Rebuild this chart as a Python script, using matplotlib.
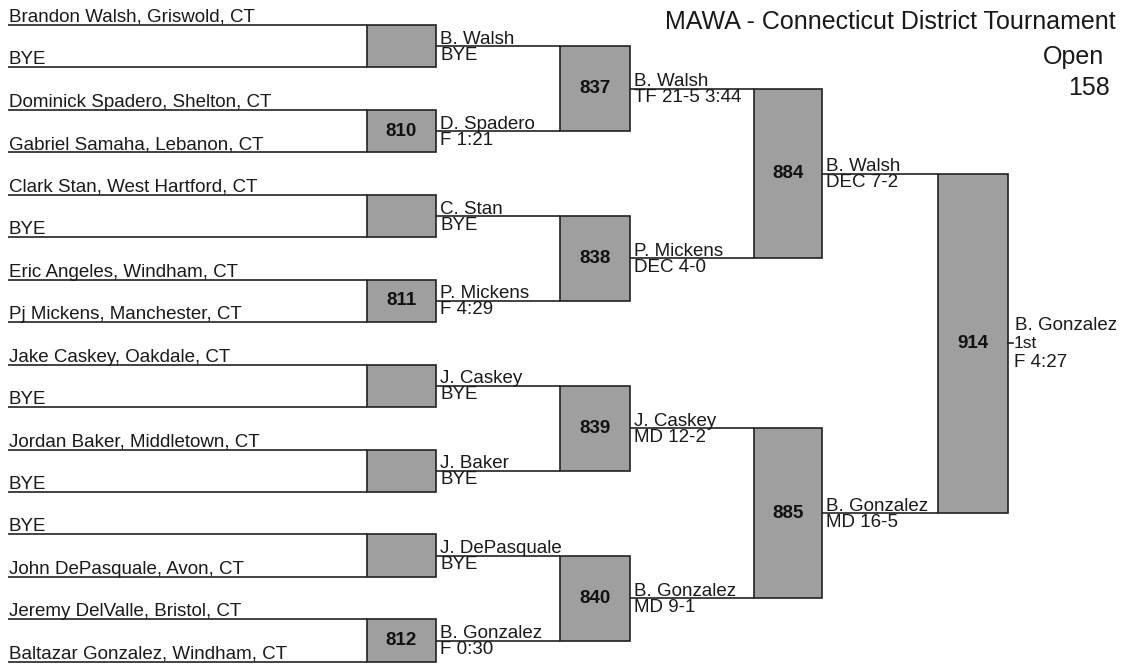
import matplotlib.pyplot as plt
from matplotlib.patches import Rectangle

plt.rcParams["font.family"] = ["Liberation Sans", "DejaVu Sans"]

TITLE = "MAWA - Connecticut District Tournament"
SUBTITLE_1 = "Open"
SUBTITLE_2 = "158"

ENTRANTS = [
    "Brandon Walsh, Griswold, CT",
    "BYE",
    "Dominick Spadero, Shelton, CT",
    "Gabriel Samaha, Lebanon, CT",
    "Clark Stan, West Hartford, CT",
    "BYE",
    "Eric Angeles, Windham, CT",
    "Pj Mickens, Manchester, CT",
    "Jake Caskey, Oakdale, CT",
    "BYE",
    "Jordan Baker, Middletown, CT",
    "BYE",
    "BYE",
    "John DePasquale, Avon, CT",
    "Jeremy DelValle, Bristol, CT",
    "Baltazar Gonzalez, Windham, CT",
]

# bout numbers per round ("" = bye, no bout)
BOUTS_R1 = ["", "810", "", "811", "", "", "", "812"]
BOUTS_R2 = ["837", "838", "839", "840"]
BOUTS_R3 = ["884", "885"]
BOUTS_R4 = ["914"]

WINNERS_R1 = ["B. Walsh", "D. Spadero", "C. Stan", "P. Mickens",
              "J. Caskey", "J. Baker", "J. DePasquale", "B. Gonzalez"]
RESULTS_R1 = ["BYE", "F 1:21", "BYE", "F 4:29", "BYE", "BYE", "BYE", "F 0:30"]
WINNERS_R2 = ["B. Walsh", "P. Mickens", "J. Caskey", "B. Gonzalez"]
RESULTS_R2 = ["TF 21-5 3:44", "DEC 4-0", "MD 12-2", "MD 9-1"]
WINNERS_R3 = ["B. Walsh", "B. Gonzalez"]
RESULTS_R3 = ["DEC 7-2", "MD 16-5"]
CHAMPION = "B. Gonzalez"
PLACE = "1st"
FINAL_RESULT = "F 4:27"

# layout (pixels)
W, H = 1125, 671
ROW0, ROW_STEP = 25.0, 42.45
LINE_X0 = 8
COLS = [(367, 436), (560, 630), (754, 822), (938, 1008)]
BOX_COLOR = "#9f9f9f"
LINE_COLOR = "#222222"
TEXT_COLOR = "#1a1a1a"
LW = 1.2
FS = 13.5

fig = plt.figure(figsize=(W / 100, H / 100), dpi=100)
ax = fig.add_axes([0, 0, 1, 1])
ax.set_xlim(0, W)
ax.set_ylim(H, 0)
ax.axis("off")

# first round lines with entrant names
rows = [ROW0 + ROW_STEP * i for i in range(len(ENTRANTS))]
for y, name in zip(rows, ENTRANTS):
    ax.plot([LINE_X0, COLS[0][0]], [y, y], color=LINE_COLOR, lw=LW,
            solid_capstyle="butt")
    ax.text(9, y - 3, name, fontsize=FS, ha="left", va="baseline",
            color=TEXT_COLOR)


def draw_round(col, edges, bouts, winners, results, next_x):
    x0, x1 = col
    mids = []
    for k, bout in enumerate(bouts):
        top, bottom = edges[2 * k], edges[2 * k + 1]
        ax.add_patch(Rectangle((x0, top), x1 - x0, bottom - top,
                               facecolor=BOX_COLOR, edgecolor=LINE_COLOR,
                               lw=LW, zorder=2))
        mid = (top + bottom) / 2
        mids.append(mid)
        if bout:
            ax.text((x0 + x1) / 2, mid, bout, fontsize=13.5, fontweight="bold",
                    ha="center", va="center", color="#111111", zorder=3)
        if next_x is not None:
            ax.plot([x1, next_x], [mid, mid], color=LINE_COLOR, lw=LW,
                    solid_capstyle="butt", zorder=1)
            ax.text(x1 + 4, mid - 2.5, winners[k], fontsize=FS,
                    ha="left", va="baseline", color=TEXT_COLOR)
            ax.text(x1 + 4, mid + 0.5, results[k], fontsize=FS,
                    ha="left", va="top", color=TEXT_COLOR)
    return mids


m1 = draw_round(COLS[0], rows, BOUTS_R1, WINNERS_R1, RESULTS_R1, COLS[1][0])
m2 = draw_round(COLS[1], m1, BOUTS_R2, WINNERS_R2, RESULTS_R2, COLS[2][0])
m3 = draw_round(COLS[2], m2, BOUTS_R3, WINNERS_R3, RESULTS_R3, COLS[3][0])
m4 = draw_round(COLS[3], m3, BOUTS_R4, [], [], None)

# champion label
fx = COLS[3][1]
fy = m4[0]
ax.plot([fx, fx + 5], [fy, fy], color=LINE_COLOR, lw=LW)
ax.text(fx + 7, fy - 13, CHAMPION, fontsize=FS, ha="left", va="baseline",
        color=TEXT_COLOR)
ax.text(fx + 6, fy + 0.5, PLACE, fontsize=12.5, ha="left", va="center",
        color=TEXT_COLOR)
ax.text(fx + 6, fy + 11, FINAL_RESULT, fontsize=FS, ha="left", va="top",
        color=TEXT_COLOR)

# title block
ax.text(665, 22, TITLE, fontsize=18, ha="left", va="center", color=TEXT_COLOR)
ax.text(1043, 57, SUBTITLE_1, fontsize=18, ha="left", va="center",
        color=TEXT_COLOR)
ax.text(1068, 88, SUBTITLE_2, fontsize=18, ha="left", va="center",
        color=TEXT_COLOR)

fig.savefig("out.png", dpi=100)
